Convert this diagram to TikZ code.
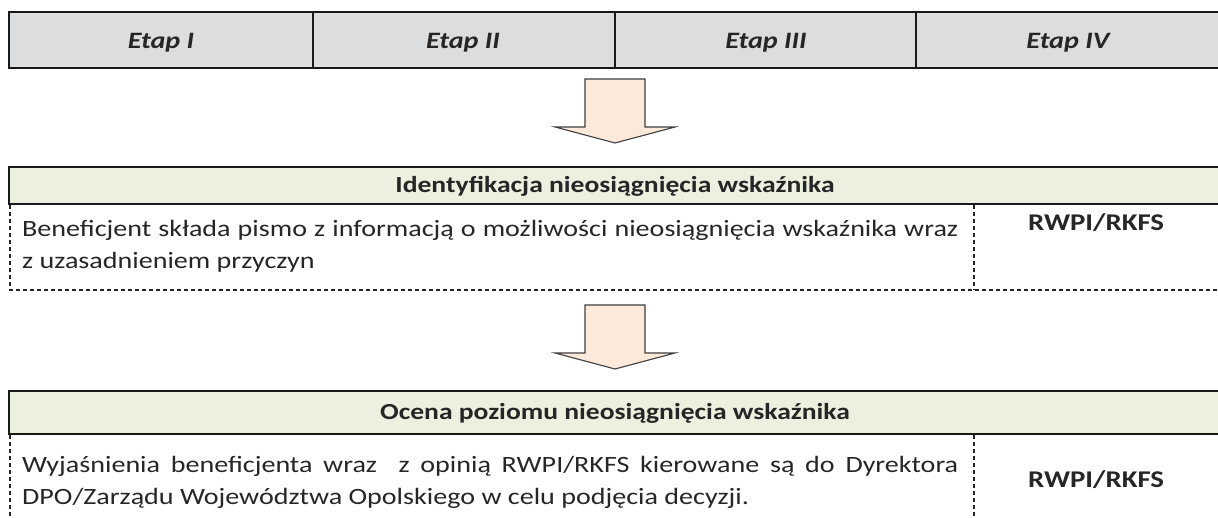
\documentclass[tikz,border=0pt]{standalone}
\usepackage{fontspec}
\setmainfont{Carlito}[FakeStretch=1.2]
\hyphenpenalty=10000
\exhyphenpenalty=10000
\definecolor{txt}{HTML}{262626}
\definecolor{cellgray}{HTML}{DCDDDE}
\definecolor{headgreen}{HTML}{EBF1DE}
\definecolor{peach}{HTML}{FDE9D9}
\begin{document}
\begin{tikzpicture}[x=1pt,y=-1pt,
  frame/.style={line width=2pt, draw=black!90},
  dashln/.style={line width=1.4pt, dash pattern=on 4pt off 3pt, draw=black!85},
  etap/.style={font=\fontsize{23.5}{28}\selectfont\bfseries\itshape, text=txt, anchor=base, inner sep=0pt},
  headtxt/.style={font=\fontsize{23}{28}\selectfont\bfseries, text=txt, anchor=base, inner sep=0pt},
  bodytxt/.style={font=\fontsize{23.4}{32}\selectfont, text=txt, text width=936pt, align=justify, inner sep=0pt, anchor=base west},
  whotxt/.style={font=\fontsize{24}{28}\selectfont\bfseries, text=txt, anchor=base, inner sep=0pt},
  blockarrow/.style={fill=peach, draw=black!75, line width=1.1pt, line join=miter}
]
\useasboundingbox (0,0) rectangle (1218,518);
\clip (0,0) rectangle (1218,518);

% ---- top table ----
\fill[cellgray] (9,12) rectangle (1230,68);
\draw[frame] (1230,12) -- (9,12) -- (9,68) -- (1230,68);
\draw[frame] (313,12) -- (313,68);
\draw[frame] (615,12) -- (615,68);
\draw[frame] (916,12) -- (916,68);
\node[etap] (e1) at (161,49) {Etap I};
\node[etap] (e2) at (463,49) {Etap II};
\node[etap] (e3) at (766,49) {Etap III};
\node[etap] (e4) at (1068,49) {Etap IV};

% ---- arrow 1 ----
\draw[blockarrow] (585,79) -- (645,79) -- (645,127) -- (675,127) -- (615,143) -- (555,127) -- (585,127) -- cycle;

% ---- box 2 ----
\fill[headgreen] (9,167) rectangle (1230,204);
\draw[frame] (1230,167) -- (9,167) -- (9,204) -- (1230,204);
\node[headtxt] (h1) at (615,193) {Identyfikacja nieosiągnięcia wskaźnika};
\draw[dashln] (10,205) -- (10,290) -- (1230,290);
\draw[dashln] (974,205) -- (974,290);
\node[bodytxt] (b1) at (22,237) {Beneficjent składa pismo z informacją o możliwości nieosiągnięcia wskaźnika wraz z~uzasadnieniem przyczyn};
\node[whotxt] (w1) at (1096,231) {RWPI/RKFS};

% ---- arrow 2 ----
\draw[blockarrow] (585,305) -- (645,305) -- (645,353) -- (675,353) -- (615,369) -- (555,353) -- (585,353) -- cycle;

% ---- box 3 ----
\fill[headgreen] (9,391) rectangle (1230,434);
\draw[frame] (1230,391) -- (9,391) -- (9,434) -- (1230,434);
\node[headtxt] (h2) at (615,420) {Ocena poziomu nieosiągnięcia wskaźnika};
\draw[dashln] (10,435) -- (10,520);
\draw[dashln] (974,435) -- (974,520);
\node[bodytxt] (b2) at (22,472) {Wyjaśnienia beneficjenta wraz \ z opinią RWPI/RKFS kierowane są do Dyrektora DPO/Zarządu Województwa Opolskiego w celu podjęcia decyzji.};
\node[whotxt] (w2) at (1096,487) {RWPI/RKFS};
\end{tikzpicture}
\end{document}
